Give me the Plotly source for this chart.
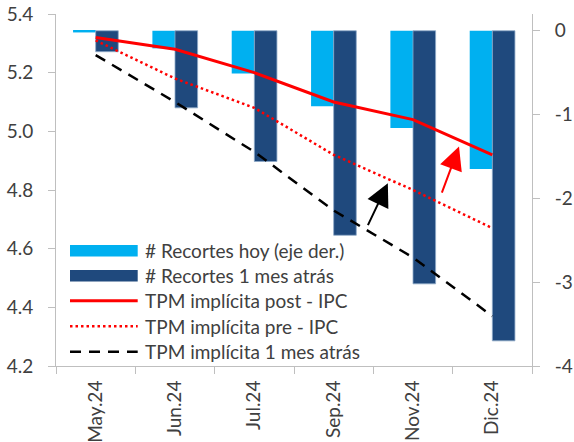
import plotly.graph_objects as go

# ---- data ----
meses = ["May.24", "Jun.24", "Jul.24", "Sep.24", "Nov.24", "Dic.24"]
recortes_hoy = [-0.02, -0.21, -0.51, -0.90, -1.16, -1.65]
recortes_1m = [-0.25, -0.92, -1.56, -2.44, -3.02, -3.70]
tpm_post_ipc = [5.32, 5.28, 5.20, 5.10, 5.04, 4.92]
tpm_pre_ipc = [5.31, 5.18, 5.08, 4.92, 4.80, 4.67]
tpm_1m = [5.26, 5.10, 4.93, 4.73, 4.57, 4.37]

der_ticks = [-4, -3, -2, -1, 0]
der_ticktext = ["-4", "-3", "-2", "-1", "0"]

nombres = [
    "# Recortes hoy (eje der.)",
    "# Recortes 1 mes atrás",
    "TPM implícita post - IPC",
    "TPM implícita pre - IPC",
    "TPM implícita 1 mes atrás",
]

# ---- styles ----
AZUL_CLARO = "#00B0F0"
AZUL_OSC = "#1F497D"
ROJO = "#FF0000"
NEGRO = "#000000"
GRIS_EJE = "#BFBFBF"
TXT = "#404040"
FUENTE = "Lato"
FS = 19

W, H = 574, 442
ML, MR, MT, MB = 56, 42, 14, 76


def fx(px):
    return (px - ML) / (W - ML - MR)


def fy(py):
    return (H - MB - py) / (H - MT - MB)


fig = go.Figure()

# bars on the right-hand axis (drawn underneath)
fig.add_trace(go.Bar(x=meses, y=recortes_hoy, name=nombres[0], marker_color=AZUL_CLARO,
                     marker_line_width=0, yaxis="y", showlegend=False))
fig.add_trace(go.Bar(x=meses, y=recortes_1m, name=nombres[1], marker_color=AZUL_OSC,
                     marker_line=dict(color="#8EA9C8", width=0.8), yaxis="y", showlegend=False))

# implied rate paths on the left-hand axis (drawn on top)
fig.add_trace(go.Scatter(x=meses, y=tpm_post_ipc, name=nombres[2], mode="lines",
                         line=dict(color=ROJO, width=3), yaxis="y2", showlegend=False))
fig.add_trace(go.Scatter(x=meses, y=tpm_pre_ipc, name=nombres[3], mode="lines",
                         line=dict(color=ROJO, width=2.5, dash="2.5px,3px"), yaxis="y2", showlegend=False))
fig.add_trace(go.Scatter(x=meses, y=tpm_1m, name=nombres[4], mode="lines",
                         line=dict(color=NEGRO, width=2.5, dash="11px,8px"), yaxis="y2", showlegend=False))

# ---- legend drawn by hand ----
shapes = []
annotations = []
fila_y = [250.8, 275.8, 300.8, 326.3, 351.8]
sx0, sx1, tx = 70, 137.7, 143
for i, nombre in enumerate(nombres):
    yc = fila_y[i]
    if i < 2:
        shapes.append(dict(type="rect", xref="paper", yref="paper",
                           x0=fx(sx0), x1=fx(sx1), y0=fy(yc + 5.8), y1=fy(yc - 5.8),
                           fillcolor=[AZUL_CLARO, AZUL_OSC][i], line_width=0))
    else:
        estilo = [dict(color=ROJO, width=3),
                  dict(color=ROJO, width=2.5, dash="2.5px,3px"),
                  dict(color=NEGRO, width=2.5, dash="11px,8px")][i - 2]
        shapes.append(dict(type="line", xref="paper", yref="paper",
                           x0=fx(sx0), x1=fx(sx1), y0=fy(yc), y1=fy(yc), line=estilo))
    annotations.append(dict(xref="paper", yref="paper", x=fx(tx), y=fy(yc),
                            xanchor="left", yanchor="middle", showarrow=False,
                            text=nombre, font=dict(family=FUENTE, size=FS, color=TXT)))

# arrows showing the shift in the implied path
annotations.append(dict(x=3.683, y=4.823, ax=3.423, ay=4.675, xref="x", yref="y2",
                        axref="x", ayref="y2", showarrow=True, arrowhead=2,
                        arrowsize=2.3, arrowwidth=2, arrowcolor=NEGRO, text=""))
annotations.append(dict(x=4.580, y=4.948, ax=4.357, ay=4.786, xref="x", yref="y2",
                        axref="x", ayref="y2", showarrow=True, arrowhead=2,
                        arrowsize=2.3, arrowwidth=2, arrowcolor=ROJO, text=""))

eje = dict(showline=True, linecolor=GRIS_EJE, linewidth=1, ticks="outside", ticklen=7,
           tickcolor=GRIS_EJE, showgrid=False, automargin=False,
           tickfont=dict(family=FUENTE, size=FS, color=TXT))

fig.update_layout(
    width=W, height=H,
    margin=dict(l=ML, r=MR, t=MT, b=MB, autoexpand=False),
    paper_bgcolor="white", plot_bgcolor="white",
    barmode="group", bargap=0.43, bargroupgap=0,
    font=dict(family=FUENTE, size=FS, color=TXT),
    shapes=shapes, annotations=annotations,
    xaxis=dict(type="category", tickangle=-90, tickson="boundaries",
               ticklabelstandoff=6, **eje),
    yaxis=dict(side="right", range=[-4, 0.2], tickvals=der_ticks, ticktext=der_ticktext,
               zeroline=False, ticklabelstandoff=11, **eje),
    yaxis2=dict(side="left", overlaying="y", range=[4.2, 5.4], dtick=0.2, tick0=4.2,
                tickformat=".1f", zeroline=False, ticklabelstandoff=11, **eje),
)

fig.write_html("out.html")
